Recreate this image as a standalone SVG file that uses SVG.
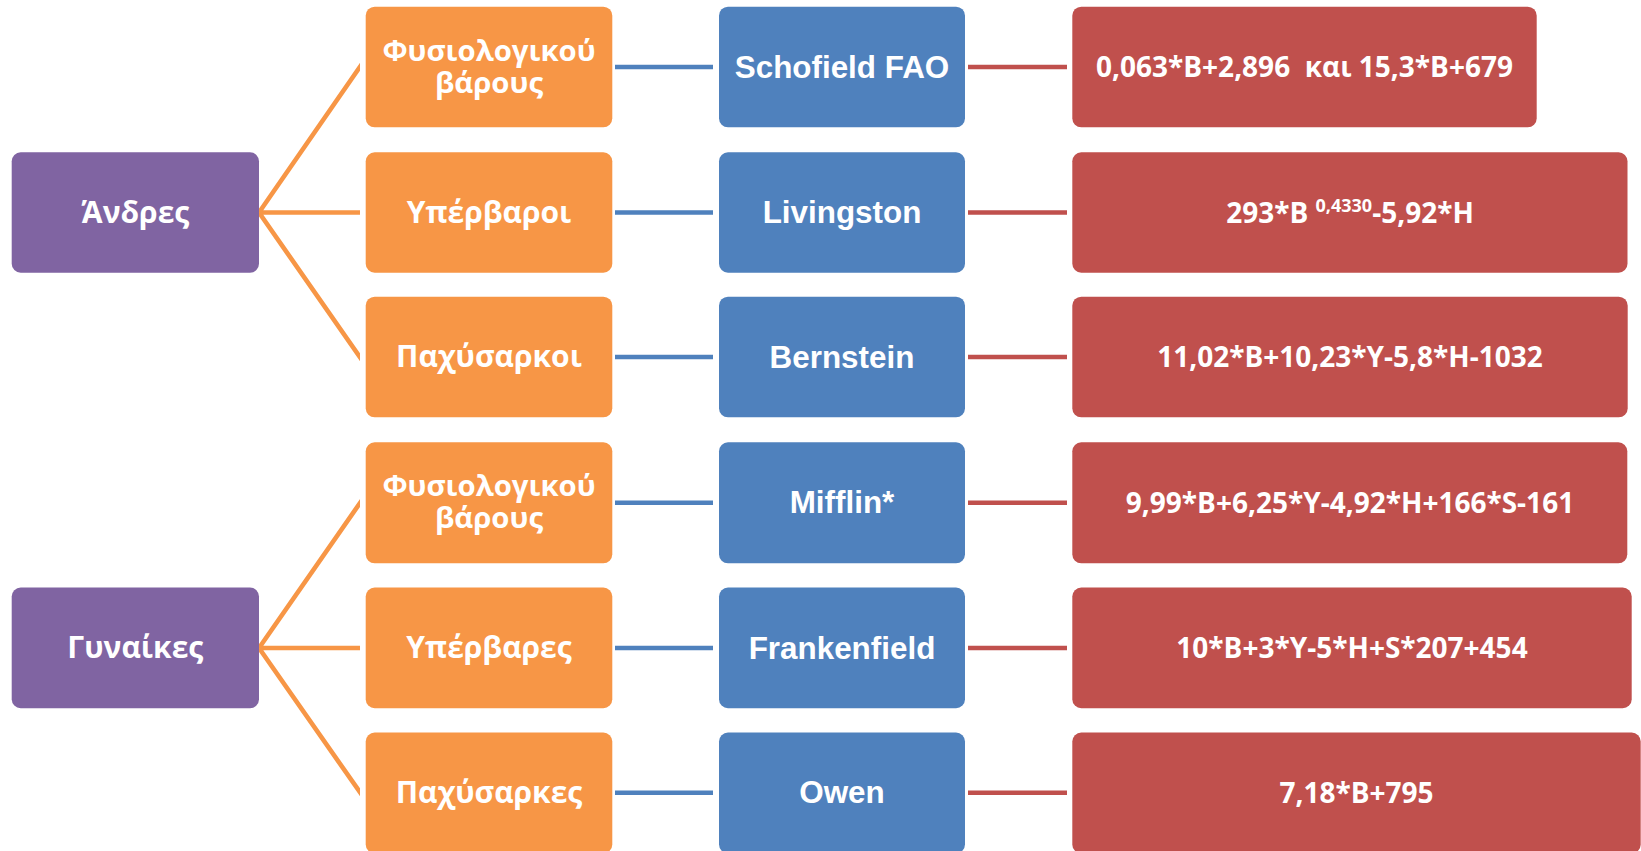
<svg xmlns="http://www.w3.org/2000/svg" width="1641" height="851" viewBox="0 0 1641 851">
<style>
.purple{fill:#8064A2}
.orange{fill:#F79646}
.blue{fill:#4F81BD}
.red{fill:#C0504D}
.gr{font-family:"Open Sans","Noto Sans","DejaVu Sans",sans-serif;font-weight:700;font-size:30px;fill:#fff;text-anchor:middle}
.gs{font-family:"Open Sans","Noto Sans","DejaVu Sans",sans-serif;font-weight:700;font-size:29.3px;fill:#fff;text-anchor:middle}
.en{font-family:"Liberation Sans",Arial,sans-serif;font-weight:700;font-size:31.4px;fill:#fff;text-anchor:middle}
.fx{font-family:"Open Sans","Noto Sans",sans-serif;font-weight:700;font-size:28px;fill:#fff;text-anchor:middle;white-space:pre}
.co{stroke:#F79646;stroke-width:4.6;fill:none}
.cb{stroke:#4F81BD;stroke-width:4.6;fill:none}
.cr{stroke:#C0504D;stroke-width:4.6;fill:none}
</style>
<defs>
<clipPath id="clipO"><rect x="200" y="0" width="160" height="851"/></clipPath>
</defs>
<rect width="1641" height="851" fill="#fff"/>
<g id="connectors">
<g clip-path="url(#clipO)">
<path class="co" d="M259,212.5 L370,212.5 M259,212.5 L365,59.5 M259,212.5 L365,364.5"/>
<path class="co" d="M259,648 L370,648 M259,648 L365,495.8 M259,648 L365,799.5"/>
</g>
<path class="cb" d="M615,67 H713 M615,212.5 H713 M615,357 H713 M615,502.8 H713 M615,648 H713 M615,792.7 H713"/>
<path class="cr" d="M968,67 H1067 M968,212.5 H1067 M968,357 H1067 M968,502.8 H1067 M968,648 H1067 M968,792.7 H1067"/>
</g>
<g id="men">
<rect class="purple" x="11.7" y="152.3" width="247.3" height="120.4" rx="9"/>
<text class="gr" x="135.3" y="222.5">Άνδρες</text>
</g>
<g id="women">
<rect class="purple" x="11.7" y="587.5" width="247.3" height="120.7" rx="9"/>
<text class="gr" x="135.3" y="658">Γυναίκες</text>
</g>
<g id="men-normal">
<rect class="orange" x="365.7" y="6.7" width="246.6" height="120.6" rx="9"/>
<text class="gs" x="489" y="60.5">Φυσιολογικού</text>
<text class="gs" x="489" y="92.5">βάρους</text>
</g>
<g id="men-over">
<rect class="orange" x="365.7" y="152.3" width="246.6" height="120.4" rx="9"/>
<text class="gr" x="489" y="222.5">Υπέρβαροι</text>
</g>
<g id="men-obese">
<rect class="orange" x="365.7" y="296.7" width="246.6" height="120.6" rx="9"/>
<text class="gr" x="489" y="367">Παχύσαρκοι</text>
</g>
<g id="women-normal">
<rect class="orange" x="365.7" y="442.3" width="246.6" height="121" rx="9"/>
<text class="gs" x="489" y="496">Φυσιολογικού</text>
<text class="gs" x="489" y="528">βάρους</text>
</g>
<g id="women-over">
<rect class="orange" x="365.7" y="587.5" width="246.6" height="120.7" rx="9"/>
<text class="gr" x="489" y="658">Υπέρβαρες</text>
</g>
<g id="women-obese">
<rect class="orange" x="365.7" y="732.5" width="246.6" height="121" rx="9"/>
<text class="gr" x="489" y="802.7">Παχύσαρκες</text>
</g>
<g id="schofield">
<rect class="blue" x="719" y="6.7" width="246" height="120.6" rx="9"/>
<text class="en" x="842" y="77.5">Schofield FAO</text>
</g>
<g id="livingston">
<rect class="blue" x="719" y="152.3" width="246" height="120.4" rx="9"/>
<text class="en" x="842" y="223">Livingston</text>
</g>
<g id="bernstein">
<rect class="blue" x="719" y="296.7" width="246" height="120.6" rx="9"/>
<text class="en" x="842" y="367.5">Bernstein</text>
</g>
<g id="mifflin">
<rect class="blue" x="719" y="442.3" width="246" height="121" rx="9"/>
<text class="en" x="842" y="513.3">Mifflin*</text>
</g>
<g id="frankenfield">
<rect class="blue" x="719" y="587.5" width="246" height="120.7" rx="9"/>
<text class="en" x="842" y="658.5">Frankenfield</text>
</g>
<g id="owen">
<rect class="blue" x="719" y="732.5" width="246" height="121" rx="9"/>
<text class="en" x="842" y="803.2">Owen</text>
</g>
<g id="f-schofield">
<rect class="red" x="1072.3" y="6.7" width="464.4" height="120.6" rx="9"/>
<text class="fx" x="1304.5" y="77">0,063*B+2,896  και 15,3*B+679</text>
</g>
<g id="f-livingston">
<rect class="red" x="1072.3" y="152.3" width="555.2" height="120.4" rx="9"/>
<text class="fx" x="1350" y="222.5">293*B <tspan font-size="18" dy="-11">0,4330</tspan><tspan dy="11">-5,92*H</tspan></text>
</g>
<g id="f-bernstein">
<rect class="red" x="1072.3" y="296.7" width="555.4" height="120.6" rx="9"/>
<text class="fx" x="1350" y="367">11,02*B+10,23*Y-5,8*H-1032</text>
</g>
<g id="f-mifflin">
<rect class="red" x="1072.3" y="442.3" width="555" height="121" rx="9"/>
<text class="fx" x="1350" y="512.8">9,99*B+6,25*Y-4,92*H+166*S-161</text>
</g>
<g id="f-frankenfield">
<rect class="red" x="1072.3" y="587.5" width="559.4" height="120.7" rx="9"/>
<text class="fx" x="1352" y="658">10*B+3*Y-5*H+S*207+454</text>
</g>
<g id="f-owen">
<rect class="red" x="1072.3" y="732.5" width="568.4" height="121" rx="9"/>
<text class="fx" x="1356.5" y="802.7">7,18*B+795</text>
</g>
</svg>
